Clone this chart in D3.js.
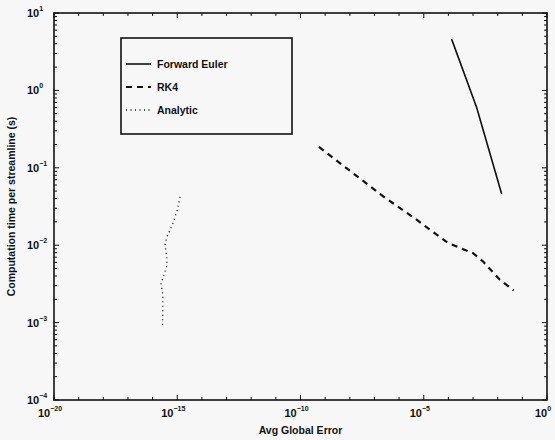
<!DOCTYPE html>
<html lang="en">
<head>
<meta charset="UTF-8">
<title>Computation time vs error</title>
<script src="https://d3js.org/d3.v7.min.js"></script>
<style>
  body { margin: 0; background: #f7f7f7; font-family: "Liberation Sans", Arial, sans-serif; }
  text { font-weight: bold; fill: #111; }
</style>
</head>
<body>
<div id="chart"></div>
<script>
// data (x = avg global error, y = seconds)
const eulerErr  = [1.35e-4, 1.4e-3, 1.45e-2];
const eulerTime = [4.6, 0.6, 0.046];

const rk4Err  = [5.6e-10, 2.2e-7, 4.5e-6, 9.5e-5, 1e-3, 2.5e-3, 1.2e-2, 4.5e-2];
const rk4Time = [0.186, 0.043, 0.022, 0.0107, 0.0079, 0.0062, 0.0036, 0.0026];

const anaErr  = [1.3e-15, 1.0e-15, 6.8e-16, 3.8e-16, 3.2e-16, 3.8e-16, 3.8e-16, 2.2e-16, 2.6e-16, 2.6e-16, 2.5e-16];
const anaTime = [0.042, 0.0285, 0.0194, 0.0128, 0.0101, 0.0068, 0.0054, 0.0032, 0.0023, 0.00146, 0.00085];

const series = [
  { name: "Forward Euler", x: eulerErr, y: eulerTime, dash: null, width: 1.6 },
  { name: "RK4", x: rk4Err, y: rk4Time, dash: "6,5", width: 2.2 },
  { name: "Analytic", x: anaErr, y: anaTime, dash: "1,3.5", width: 1.3 }
];

const xMajor = [-20, -15, -10, -5, 0];
const yMajor = [1, 0, -1, -2, -3, -4];

const W = 555, H = 440;
const margin = { top: 13, right: 8, bottom: 40, left: 54 };
const width = W - margin.left - margin.right,
      height = H - margin.top - margin.bottom;

const svg = d3.select("#chart").append("svg")
  .attr("width", W).attr("height", H);

const g = svg.append("g")
  .attr("transform", `translate(${margin.left},${margin.top})`);

const x = d3.scaleLog().domain([1e-20, 1]).range([0, width]);
const y = d3.scaleLog().domain([1e-4, 10]).range([height, 0]);

// ticks (inward, on all four sides)
const xDecades = d3.range(-20, 1);
const yMinor = [];
for (let e = -4; e < 1; e++) for (let m = 2; m <= 9; m++) yMinor.push(m * Math.pow(10, e));

const tk = g.append("g").attr("stroke", "#111").attr("stroke-width", 1);
xDecades.forEach(e => {
  const px = x(Math.pow(10, e));
  const len = xMajor.includes(e) ? 5 : 3;
  tk.append("line").attr("x1", px).attr("x2", px).attr("y1", height).attr("y2", height - len);
  tk.append("line").attr("x1", px).attr("x2", px).attr("y1", 0).attr("y2", len);
});
yMajor.forEach(e => {
  const py = y(Math.pow(10, e));
  tk.append("line").attr("x1", 0).attr("x2", 5).attr("y1", py).attr("y2", py);
  tk.append("line").attr("x1", width).attr("x2", width - 5).attr("y1", py).attr("y2", py);
});
yMinor.forEach(v => {
  const py = y(v);
  tk.append("line").attr("x1", 0).attr("x2", 3).attr("y1", py).attr("y2", py);
  tk.append("line").attr("x1", width).attr("x2", width - 3).attr("y1", py).attr("y2", py);
});

// box
g.append("rect").attr("width", width).attr("height", height)
  .attr("fill", "none").attr("stroke", "#111").attr("stroke-width", 1.6);

// tick labels with superscript exponents
function powLabel(sel, e) {
  sel.append("tspan").text("10");
  sel.append("tspan").attr("dy", -6).attr("font-size", 7).text(e < 0 ? "\u2212" + Math.abs(e) : String(e));
}
xMajor.forEach(e => {
  const t = g.append("text").attr("x", x(Math.pow(10, e)) - 4).attr("y", height + 17)
    .attr("text-anchor", "middle").attr("font-size", 11);
  powLabel(t, e);
});
yMajor.forEach(e => {
  const t = g.append("text").attr("x", -27).attr("y", y(Math.pow(10, e)) + 4)
    .attr("font-size", 11);
  powLabel(t, e);
});

// axis titles
svg.append("text").attr("x", margin.left + width / 2).attr("y", 434)
  .attr("text-anchor", "middle").attr("font-size", 10.5).text("Avg Global Error");
svg.append("text").attr("transform", `translate(15,${margin.top + height / 2}) rotate(-90)`)
  .attr("text-anchor", "middle").attr("font-size", 10.5).text("Computation time per streamline (s)");

// lines
const line = d3.line().x(d => x(d[0])).y(d => y(d[1]));
series.forEach(s => {
  g.append("path")
    .datum(s.x.map((v, i) => [v, s.y[i]]))
    .attr("d", line)
    .attr("fill", "none")
    .attr("stroke", "#111")
    .attr("stroke-width", s.width)
    .attr("stroke-dasharray", s.dash);
});

// legend
const lg = svg.append("g").attr("transform", "translate(121,38)");
lg.append("rect").attr("width", 171).attr("height", 96)
  .attr("fill", "#f7f7f7").attr("stroke", "#111").attr("stroke-width", 1.6);
series.forEach((s, i) => {
  const ly = 26 + i * 23;
  lg.append("line").attr("x1", 5).attr("x2", 30).attr("y1", ly).attr("y2", ly)
    .attr("stroke", "#111").attr("stroke-width", s.width).attr("stroke-dasharray", s.dash);
  lg.append("text").attr("x", 36).attr("y", ly + 4).attr("font-size", 10.5).text(s.name);
});
</script>
</body>
</html>
